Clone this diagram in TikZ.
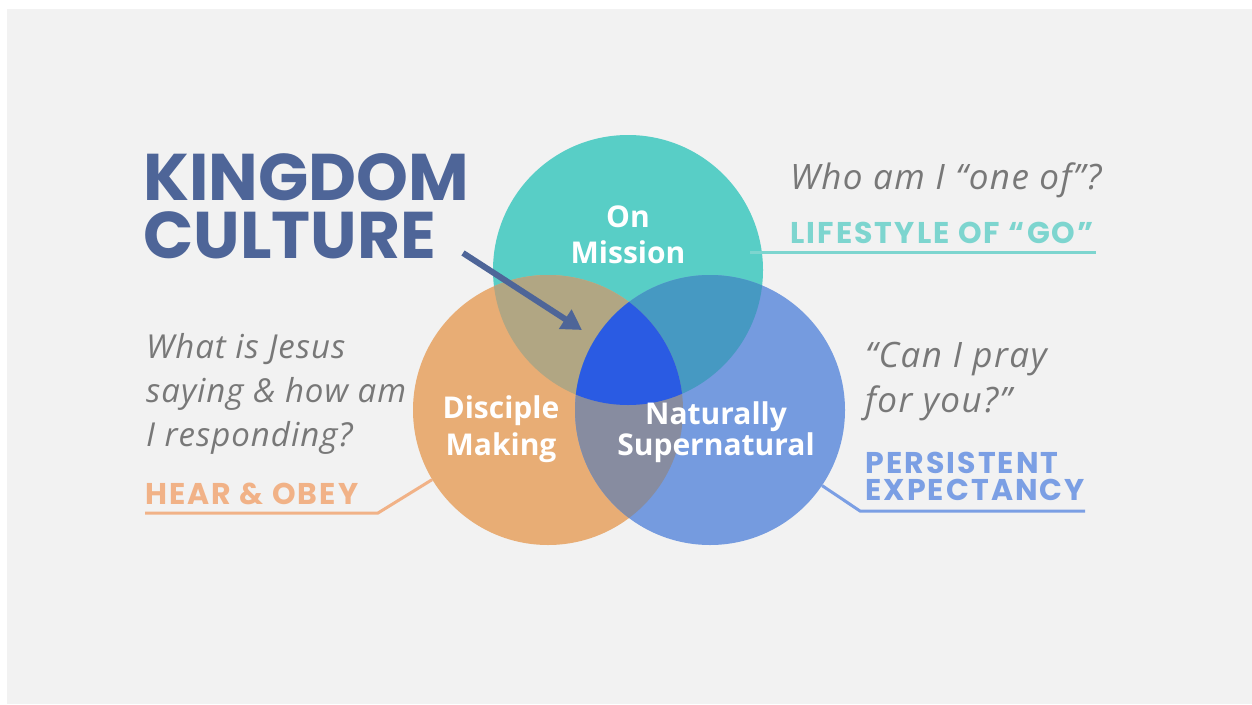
\documentclass[tikz,border=0pt]{standalone}
\usepackage{fontspec}
\usetikzlibrary{arrows.meta}

\newfontfamily\headfont{Poppins}
\newfontfamily\mottofont{Poppins}[LetterSpace=7]
\newfontfamily\quotefont{Open Sans}
\newfontfamily\askfont{Open Sans}[LetterSpace=3]
\newfontfamily\askwidefont{Open Sans}[LetterSpace=4]

\definecolor{pagegray}{HTML}{F2F2F2}
\definecolor{missionc}{HTML}{58CEC6}
\definecolor{discc}{HTML}{E8AD75}
\definecolor{superc}{HTML}{759BDF}
\definecolor{misdisc}{HTML}{B1A683}
\definecolor{missup}{HTML}{4699C2}
\definecolor{discsup}{HTML}{878CA0}
\definecolor{allthree}{HTML}{2A5BE3}
\definecolor{kingc}{HTML}{4E6598}
\definecolor{askc}{HTML}{787878}
\definecolor{hearc}{HTML}{F1B287}
\definecolor{goc}{HTML}{7DD5CF}
\definecolor{expc}{HTML}{7B9FE4}

\tikzstyle{ring} = [circle, minimum size=270pt, inner sep=0pt]
\tikzstyle{inlabel} = [anchor=base, inner sep=0pt, text=white, align=center, font=\quotefont\bfseries\fontsize{30}{37}\selectfont]
\tikzstyle{ask} = [anchor=base west, inner sep=0pt, align=left, text=askc, font=\askfont\itshape\fontsize{33}{44}\selectfont]
\tikzstyle{motto} = [anchor=base west, inner sep=0pt, align=left, font=\mottofont\bfseries\fontsize{30}{27}\selectfont]
\tikzstyle{leader} = [line width=3pt]

\begin{document}
\begin{tikzpicture}[x=1pt, y=-1pt]
	\useasboundingbox (0,0) rectangle (1252,704);
	\fill[white] (0,0) rectangle (1252,704);
	\fill[pagegray] (7,9) rectangle (1252,704);
	
	% the three circles
	\node[ring, fill=missionc] (mission) at (628,270) {};
	\node[ring, fill=discc] (disciple) at (548,410) {};
	\node[ring, fill=superc] (super) at (710,410) {};
	
	% overlaps
	\begin{scope}
		\clip (mission.center) circle (135);
		\fill[misdisc] (disciple.center) circle (135);
		\fill[missup] (super.center) circle (135);
	\end{scope}
	\begin{scope}
		\clip (disciple.center) circle (135);
		\fill[discsup] (super.center) circle (135);
		\clip (super.center) circle (135);
		\fill[allthree] (mission.center) circle (135);
	\end{scope}
	
	\node[inlabel, font=\quotefont\bfseries\fontsize{30}{36}\selectfont] (onmission) at (628,263) {On\\Mission};
	\node[inlabel] (making) at (501,455) {Disciple\\Making};
	\node[inlabel, font=\quotefont\bfseries\fontsize{30}{31}\selectfont] (natural) at (716,455) {Naturally\\Supernatural};
	
	% title and arrow
	\node[anchor=base west, inner sep=0pt, align=left, text=kingc, font=\headfont\bfseries\fontsize{66}{58}\selectfont] (kingdom) at (143,258) {KINGDOM\\CULTURE};
	\coordinate (arrowstart) at (463,253);
	\coordinate (arrowtip) at (582,330);
	\draw[kingc, line width=6pt, -{Triangle[length=20pt, width=22pt]}] (arrowstart) -- (arrowtip);
	
	% left side
	\node[ask] (jesus) at (146,446) {What is Jesus\\saying \& how am\\I responding?};
	\node[motto, text=hearc] (hear) at (145,504) {HEAR \& OBEY};
	\coordinate (hearleft) at (145,513);
	\coordinate (hearbend) at (378,513);
	\draw[leader, hearc] (hearleft) -- (hearbend) -- (disciple.211);
	
	% top right
	\node[ask, font=\askwidefont\itshape\fontsize{35}{45}\selectfont] (oneof) at (790,189) {Who am I “one of”?};
	\node[motto, text=goc] (go) at (790,243) {LIFESTYLE OF “GO”};
	\coordinate (goright) at (1096,252);
	\coordinate (goleft) at (750,252);
	\draw[leader, goc] (goleft) -- (goright);
	
	% bottom right
	\node[ask, font=\askwidefont\itshape\fontsize{35}{45}\selectfont] (pray) at (865,412) {“Can I pray\\ for you?”};
	\node[motto, text=expc] (expect) at (865,500) {PERSISTENT\\EXPECTANCY};
	\coordinate (expbend) at (860,511);
	\coordinate (expright) at (1085,511);
	\draw[leader, expc] (super.-34) -- (expbend) -- (expright);
\end{tikzpicture}
\end{document}
